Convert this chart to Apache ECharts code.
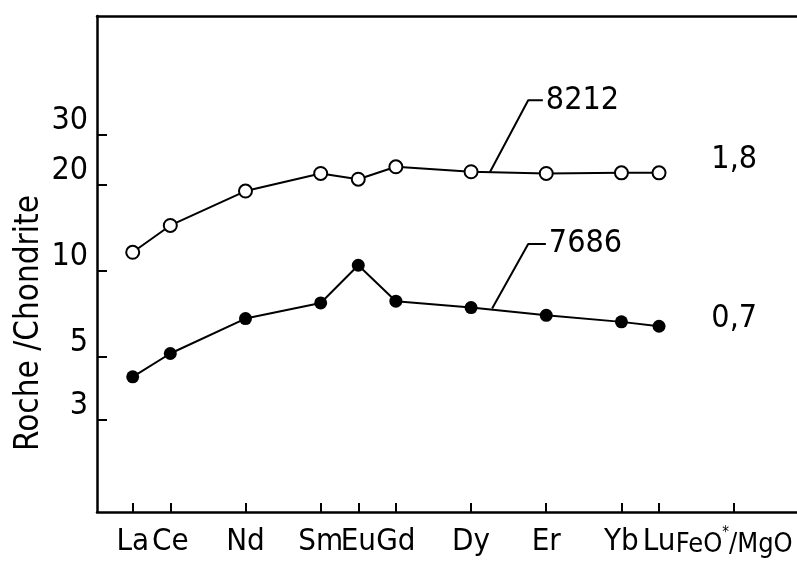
<!DOCTYPE html>
<html>
<head>
<meta charset="utf-8">
<style>
  html, body { margin: 0; padding: 0; background: #fff; }
  #chart { width: 797px; height: 561px; }
</style>
<script src="https://cdn.jsdelivr.net/npm/echarts@6/dist/echarts.min.js"></script>
</head>
<body>
<div id="chart"></div>
<script>
// REE pattern normalised to chondrite, two samples
const elements = ['La', 'Ce', 'Nd', 'Sm', 'Eu', 'Gd', 'Dy', 'Er', 'Yb', 'Lu'];
const atomicNumbers = [57, 58, 60, 62, 63, 64, 66, 68, 70, 71];
const sample8212 = [11.6, 14.4, 19.0, 21.9, 20.9, 23.1, 22.2, 21.9, 22.0, 22.0];
const sample7686 = [4.25, 5.13, 6.8, 7.71, 10.45, 7.82, 7.43, 6.98, 6.62, 6.39];

// extra column holding the FeO*/MgO ratio of each sample
const ratioColumn = 73;
const ratioName = 'FeO*/MgO';
const ratioText = ['1,8', '0,7'];
const ratioLevel = [24.4, 6.8];

// sample name callouts: [x, y] in axis units
const callout8212 = [[66.5, 22.1], [67.52, 39.5], [67.91, 39.5]];
const callout7686 = [[66.56, 7.37], [67.52, 12.4], [67.99, 12.4]];

const yTicks = [3, 5, 10, 20, 30];

const FONT = "'DejaVu Sans Condensed', 'Liberation Sans', sans-serif";
const FS = 31;

const xTickValues = atomicNumbers.concat([ratioColumn]);
const xNames = {};
atomicNumbers.forEach((z, i) => { xNames[z] = elements[i]; });

const pairs = (xs, ys) => xs.map((x, i) => [x, ys[i]]);

// the ratio label is set a little tighter, with a small raised asterisk
function xLabel(v) {
  const z = Math.round(v);
  if (z === ratioColumn) {
    const parts = ratioName.split('*');
    return '{r|' + parts[0] + '}{sup|*}{r|' + parts[1] + '}';
  }
  return xNames[z] || '';
}

const chart = echarts.init(document.getElementById('chart'), null, { renderer: 'canvas' });

chart.setOption({
  animation: false,
  backgroundColor: '#fff',
  grid: { left: 97, right: 0, top: 16, bottom: 49, containLabel: false, outerBoundsMode: 'none' },
  xAxis: [
    {
      type: 'value',
      min: 56.05,
      max: 74.67,
      position: 'bottom',
      splitLine: { show: false },
      axisLine: { show: true, onZero: false, lineStyle: { color: '#000', width: 2.5 } },
      axisTick: {
        show: true, inside: true, length: 9,
        customValues: xTickValues,
        lineStyle: { color: '#000', width: 2 }
      },
      axisLabel: {
        show: true,
        customValues: xTickValues,
        showMinLabel: true,
        showMaxLabel: true,
        hideOverlap: false,
        formatter: xLabel,
        color: '#000', fontFamily: FONT, fontSize: FS, margin: 14,
        rich: {
          r: { fontFamily: FONT, fontSize: 27, color: '#000', lineHeight: 34, padding: [4, 0, 0, 0] },
          sup: { fontFamily: FONT, fontSize: 15, color: '#000', verticalAlign: 'top', padding: [0, 0, 6, 0] }
        }
      }
    },
    {
      type: 'value',
      min: 56.05,
      max: 74.67,
      position: 'top',
      splitLine: { show: false },
      axisLine: { show: true, onZero: false, lineStyle: { color: '#000', width: 2.5 } },
      axisTick: { show: false },
      axisLabel: { show: false }
    }
  ],
  yAxis: {
    type: 'log',
    logBase: 10,
    min: 1.43,
    max: 77.9,
    splitLine: { show: false },
    minorTick: { show: false },
    axisLine: { show: true, onZero: false, lineStyle: { color: '#000', width: 2.5 } },
    axisTick: {
      show: true, inside: true, length: 10,
      customValues: yTicks,
      lineStyle: { color: '#000', width: 2 }
    },
    axisLabel: {
      show: true,
      customValues: yTicks,
      showMinLabel: true,
      showMaxLabel: true,
      hideOverlap: false,
      formatter: v => String(Math.round(v)),
      color: '#000', fontFamily: FONT, fontSize: 32, margin: 9,
      verticalAlign: 'bottom', lineHeight: 28
    },
    name: 'Roche /Chondrite',
    nameLocation: 'middle',
    nameGap: 51,
    nameMoveOverlap: false,
    nameTextStyle: { color: '#000', fontFamily: FONT, fontSize: 33, padding: [0, 118, 0, 0] }
  },
  series: [
    {
      name: '8212',
      type: 'line',
      data: pairs(atomicNumbers, sample8212),
      symbol: 'circle',
      symbolSize: 13,
      lineStyle: { color: '#000', width: 2 },
      itemStyle: { color: '#fff', borderColor: '#000', borderWidth: 2 },
      z: 3
    },
    {
      name: '7686',
      type: 'line',
      data: pairs(atomicNumbers, sample7686),
      symbol: 'circle',
      symbolSize: 13,
      lineStyle: { color: '#000', width: 2 },
      itemStyle: { color: '#000', borderColor: '#000', borderWidth: 0 },
      z: 3
    },
    {
      name: 'callout 8212',
      type: 'line',
      data: callout8212,
      showSymbol: false,
      symbol: 'none',
      lineStyle: { color: '#000', width: 2 },
      endLabel: {
        show: true, formatter: '8212', distance: 3,
        color: '#000', fontFamily: FONT, fontSize: 32
      },
      z: 2
    },
    {
      name: 'callout 7686',
      type: 'line',
      data: callout7686,
      showSymbol: false,
      symbol: 'none',
      lineStyle: { color: '#000', width: 2 },
      endLabel: {
        show: true, formatter: '7686', distance: 3,
        color: '#000', fontFamily: FONT, fontSize: 32
      },
      z: 2
    },
    {
      name: 'FeO/MgO',
      type: 'scatter',
      data: ratioLevel.map((v, i) => ({ value: [ratioColumn, v], name: ratioText[i] })),
      symbolSize: 0,
      itemStyle: { color: '#000', opacity: 1 },
      label: {
        show: true, position: 'inside', formatter: p => p.name,
        color: '#000', fontFamily: FONT, fontSize: 32,
        textBorderWidth: 0, opacity: 1
      },
      z: 4
    }
  ]
});
</script>
</body>
</html>
